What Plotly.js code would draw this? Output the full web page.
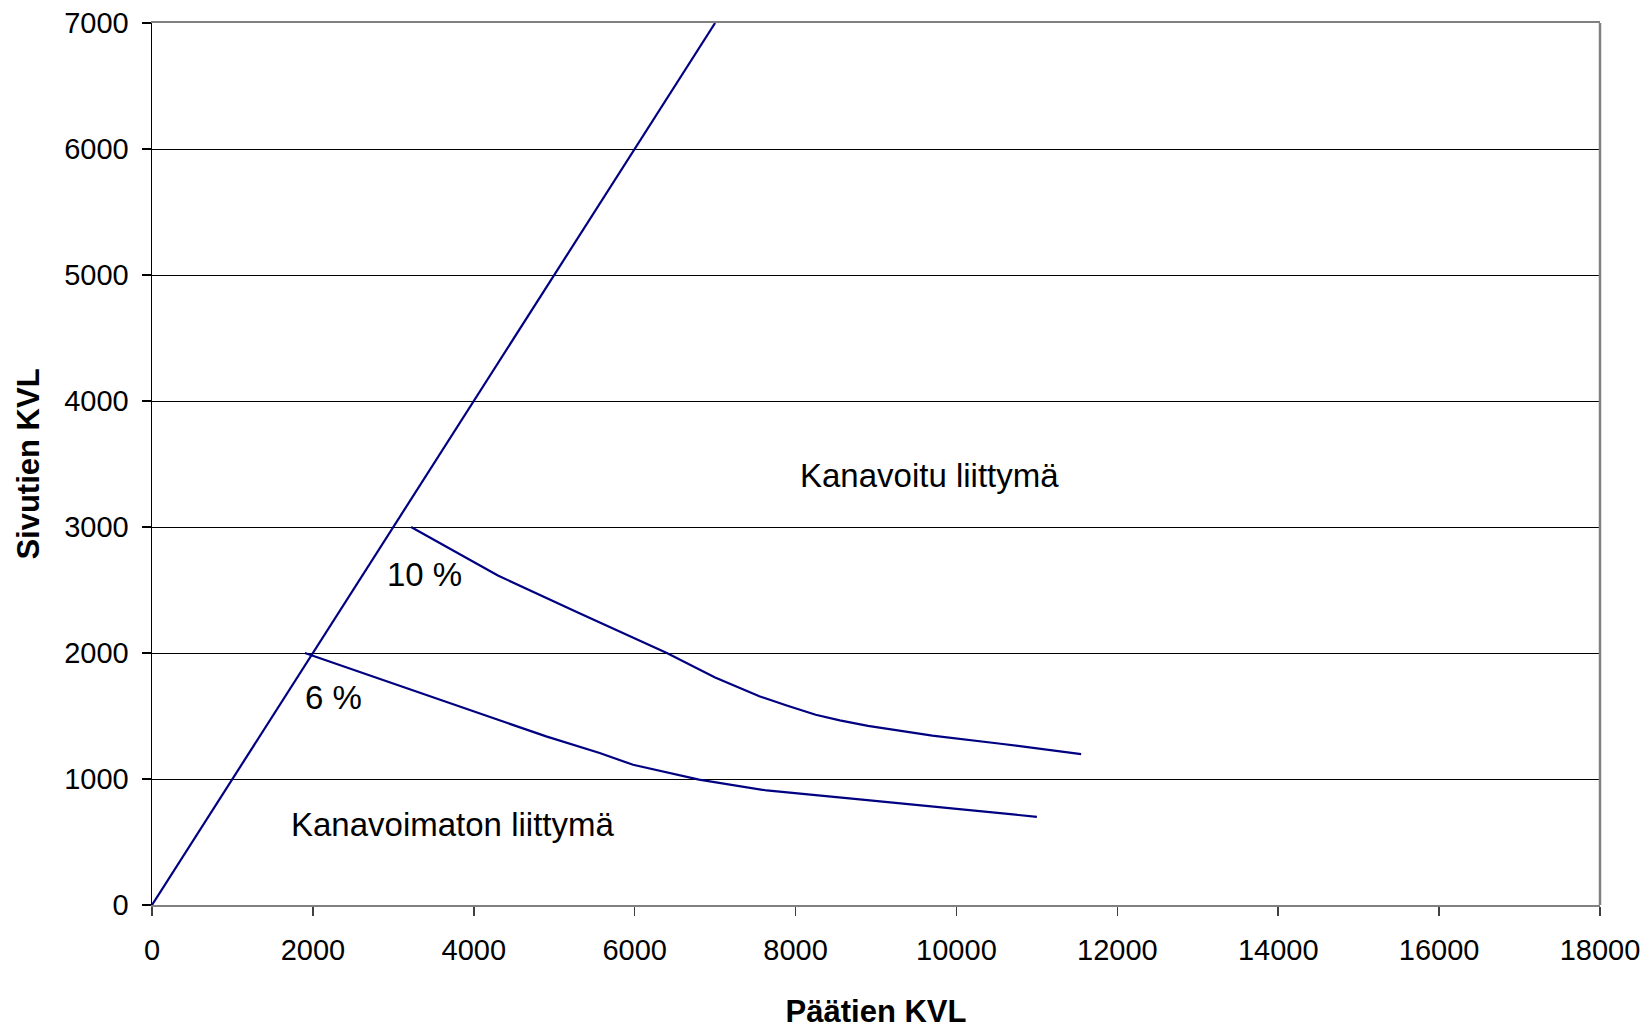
<!DOCTYPE html>
<html>
<head>
<meta charset="utf-8">
<script src="https://cdn.plot.ly/plotly-3.0.1.min.js"></script>
<style>
html,body{margin:0;padding:0;background:#fff;}
#chart{width:1649px;height:1029px;}
</style>
</head>
<body>
<div id="chart"></div>
<script>
// Rajaviiva (Sivutien KVL = Päätien KVL)
const limitX = [0, 7000];
const limitY = [0, 7000];

// 10 % käyrä
const p10X = [3220, 4300, 5300, 6400, 7000, 7300, 7550, 7900, 8250, 8550, 8900, 9700, 10550, 11550];
const p10Y = [3000, 2615, 2320, 2000, 1805, 1722, 1656, 1582, 1510, 1465, 1422, 1344, 1280, 1198];

// 6 % käyrä
const p6X = [1900, 3040, 3900, 4400, 4900, 5565, 5980, 6800, 7640, 8860, 10125, 11000];
const p6Y = [2000, 1748, 1556, 1450, 1338, 1206, 1113, 995, 909, 835, 756, 700];

const xTicks = [0, 2000, 4000, 6000, 8000, 10000, 12000, 14000, 16000, 18000];
const yTicks = [0, 1000, 2000, 3000, 4000, 5000, 6000, 7000];

const labels = [
  {text: "Kanavoitu liittymä", x: 9668, y: 3407},
  {text: "10 %", x: 3389, y: 2621},
  {text: "6 %", x: 2257, y: 1645},
  {text: "Kanavoimaton liittymä", x: 3731, y: 637}
];

const FONT = "Liberation Sans, Arial, sans-serif";
const lineStyle = {color: "#000080", width: 2.2};

const traces = [
  {x: limitX, y: limitY, mode: "lines", line: lineStyle, hoverinfo: "skip"},
  {x: p10X, y: p10Y, mode: "lines", line: lineStyle, hoverinfo: "skip"},
  {x: p6X, y: p6Y, mode: "lines", line: lineStyle, hoverinfo: "skip"}
];

const layout = {
  width: 1649,
  height: 1029,
  showlegend: false,
  paper_bgcolor: "#ffffff",
  plot_bgcolor: "#ffffff",
  margin: {l: 152, r: 49, t: 23, b: 124, pad: 0},
  font: {family: FONT, size: 29, color: "#000"},
  xaxis: {
    range: [0, 18000],
    tickvals: xTicks,
    ticktext: xTicks.map(String),
    showgrid: false,
    zeroline: false,
    showline: true,
    linecolor: "#808080",
    linewidth: 2,
    mirror: true,
    ticks: "outside",
    ticklen: 9,
    tickwidth: 1.5,
    tickcolor: "#404040",
    ticklabelstandoff: 9,
    tickfont: {family: FONT, size: 29, color: "#000"},
    title: {text: "Päätien KVL", font: {family: FONT, size: 31, color: "#000", weight: "bold"}, standoff: 38},
    automargin: false,
    fixedrange: true
  },
  yaxis: {
    range: [0, 7000],
    tickvals: yTicks,
    ticktext: yTicks.map(String),
    showgrid: true,
    gridcolor: "#000000",
    gridwidth: 1,
    zeroline: false,
    showline: true,
    linecolor: "#000000",
    linewidth: 1.5,
    ticks: "outside",
    ticklen: 9,
    tickwidth: 1.5,
    tickcolor: "#000",
    ticklabelstandoff: 7,
    tickfont: {family: FONT, size: 29, color: "#000"},
    title: {text: "Sivutien KVL", font: {family: FONT, size: 31, color: "#000", weight: "bold"}, standoff: 15},
    automargin: false,
    fixedrange: true
  },
  shapes: [
    {type: "line", xref: "paper", yref: "paper", x0: 1, x1: 1, y0: 0, y1: 1, line: {color: "#808080", width: 2.5}}
  ],
  annotations: labels.map(l => ({
    text: l.text, x: l.x, y: l.y, xref: "x", yref: "y",
    showarrow: false, xanchor: "center", yanchor: "middle",
    font: {family: FONT, size: 33, color: "#000"}
  }))
};

Plotly.newPlot("chart", traces, layout, {displayModeBar: false, staticPlot: true});
</script>
</body>
</html>
